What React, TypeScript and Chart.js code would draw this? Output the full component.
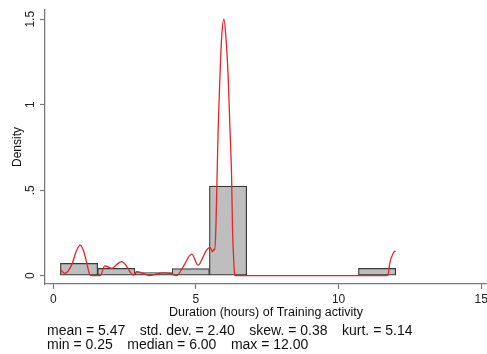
import React, { useEffect, useRef } from 'react';
import { Chart, registerables } from 'chart.js';

Chart.register(...registerables);

// Histogram bins (edges) and their densities; empty bins are null
const binEdges = [0.25, 1.5556, 2.8611, 4.1667, 5.4722, 6.7778, 8.0833, 9.3889, 10.6944, 12];
const binDensity: (number | null)[] = [0.072, 0.043, 0.019, 0.041, 0.524, null, null, null, 0.043];

// Kernel density estimate, sampled along the x axis
const kdeX = [
  0.25, 0.41, 0.64, 0.8, 0.94, 1.05, 1.15, 1.29, 1.4, 1.64, 1.81, 2.05, 2.22, 2.4, 2.55, 2.69,
  2.8, 2.92, 3.15, 3.39, 3.62, 3.85, 4.09, 4.32, 4.55, 4.85, 5.08, 5.25, 5.37, 5.5, 5.58, 5.63,
  5.66, 5.7, 5.74, 5.78, 5.84, 5.9, 5.98, 6.05, 6.13, 6.19, 6.25, 6.28, 6.33, 6.36, 6.42, 11.67,
  11.73, 11.79, 11.91, 11.99,
];
const kdeY = [
  0.035, 0.014, 0.062, 0.14, 0.179, 0.15, 0.091, 0.004, 0, 0, 0.057, 0.043, 0.065, 0.082, 0.06, 0.023,
  0.004, 0.023, 0.014, 0, 0.01, 0.017, 0.014, 0, 0.052, 0.126, 0.062, 0.11, 0.15, 0.165, 0.14, 0.155,
  0.15, 0.286, 0.577, 0.868, 1.16, 1.393, 1.5, 1.393, 1.16, 0.868, 0.577, 0.286, 0.072, 0.004, 0, 0,
  0.004, 0.072, 0.13, 0.146,
];

const xTicks = [0, 5, 10, 15];
const yTicks = [0, 0.5, 1, 1.5];
const yTickLabels = ['0', '.5', '1', '1.5'];

const xTitle = 'Duration (hours) of Training activity';
const yTitle = 'Density';
const statsRow1 = ['mean = 5.47', 'std. dev. = 2.40', 'skew. = 0.38', 'kurt. = 5.14'];
const statsRow2 = ['min = 0.25', 'median = 6.00', 'max = 12.00'];

const FONT = 'Arial, "Liberation Sans", Helvetica, sans-serif';
const AXIS_GREY = '#7a7a7a';

export default function App() {
  const canvasRef = useRef<HTMLCanvasElement>(null);

  useEffect(() => {
    const prevMargin = document.body.style.margin;
    document.body.style.margin = '0';

    // One bar per non-empty bin, centred between its edges
    const bars: { x: number; y: number }[] = [];
    binDensity.forEach((d, i) => {
      if (d !== null) bars.push({ x: (binEdges[i] + binEdges[i + 1]) / 2, y: d });
    });

    // Summary statistics printed beneath the axis title
    const statsPlugin = {
      id: 'summaryStats',
      afterDraw(chart: Chart) {
        const { ctx, chartArea } = chart;
        ctx.save();
        ctx.font = `14px ${FONT}`;
        ctx.fillStyle = '#111';
        ctx.textBaseline = 'middle';
        ctx.textAlign = 'left';
        [statsRow1, statsRow2].forEach((row, r) => {
          let x = chartArea.left + 2;
          const y = chartArea.bottom + 47.5 + r * 13.5;
          row.forEach((item) => {
            ctx.fillText(item, x, y);
            x += ctx.measureText(item).width + 14.5;
          });
        });
        ctx.restore();
      },
    };

    const chart = new Chart(canvasRef.current!, {
      type: 'bar',
      data: {
        datasets: [
          {
            type: 'line',
            data: kdeX.map((x, i) => ({ x, y: kdeY[i] })),
            borderColor: '#e3262a',
            borderWidth: 1.3,
            pointRadius: 0,
            cubicInterpolationMode: 'monotone',
            order: 0,
          } as any,
          {
            type: 'bar',
            data: bars,
            backgroundColor: '#bebebe',
            borderColor: '#3a3a3a',
            borderWidth: 1.2,
            borderSkipped: false,
            barPercentage: 1,
            categoryPercentage: 1,
            order: 1,
          } as any,
        ],
      },
      options: {
        responsive: false,
        animation: false,
        layout: { padding: { top: 10, left: 0, right: 0, bottom: 34 } },
        plugins: { legend: { display: false }, tooltip: { enabled: false } },
        scales: {
          x: {
            type: 'linear',
            min: -0.29,
            max: 15.2,
            offset: false,
            grid: {
              offset: false,
              drawOnChartArea: false,
              drawTicks: true,
              tickLength: 5,
              color: AXIS_GREY,
              tickWidth: 1.2,
            },
            border: { display: true, color: AXIS_GREY, width: 1.3 },
            ticks: {
              color: '#222',
              font: { size: 12, family: FONT },
              padding: 3,
              maxRotation: 0,
              autoSkip: false,
            },
            afterBuildTicks: (s: any) => {
              s.ticks = xTicks.map((v) => ({ value: v }));
            },
            title: {
              display: true,
              text: xTitle,
              color: '#111',
              font: { size: 12.5, family: FONT },
              padding: { top: 0, bottom: 0 },
            },
            afterFit: (s: any) => {
              s.height = 36;
              // let the last tick label run off the right edge
              s.paddingRight = 0;
              s.paddingLeft = 0;
            },
          },
          y: {
            type: 'linear',
            min: -0.0485,
            max: 1.554,
            grid: {
              drawOnChartArea: false,
              drawTicks: true,
              tickLength: 5,
              color: AXIS_GREY,
              tickWidth: 1.2,
            },
            border: { display: true, color: AXIS_GREY, width: 1.3 },
            ticks: {
              color: '#222',
              font: { size: 12, family: FONT },
              padding: 1,
              minRotation: 90,
              maxRotation: 90,
              crossAlign: 'center',
              autoSkip: false,
              callback: (v: any) => {
                const i = yTicks.indexOf(Number(v));
                return i >= 0 ? yTickLabels[i] : '';
              },
            },
            afterBuildTicks: (s: any) => {
              s.ticks = yTicks.map((v) => ({ value: v }));
            },
            title: {
              display: true,
              text: yTitle,
              color: '#111',
              font: { size: 12, family: FONT },
              padding: { top: 10, bottom: 0 },
            },
            afterFit: (s: any) => {
              s.width = 45;
              s.paddingTop = 0;
              s.paddingBottom = 0;
            },
          },
        },
      },
      plugins: [statsPlugin],
    });

    return () => {
      chart.destroy();
      document.body.style.margin = prevMargin;
    };
  }, []);

  return (
    <div style={{ width: 487, height: 354, overflow: 'hidden', position: 'relative', background: '#fff' }}>
      <canvas ref={canvasRef} width={487} height={354} style={{ display: 'block', width: 487, height: 354 }} />
    </div>
  );
}
